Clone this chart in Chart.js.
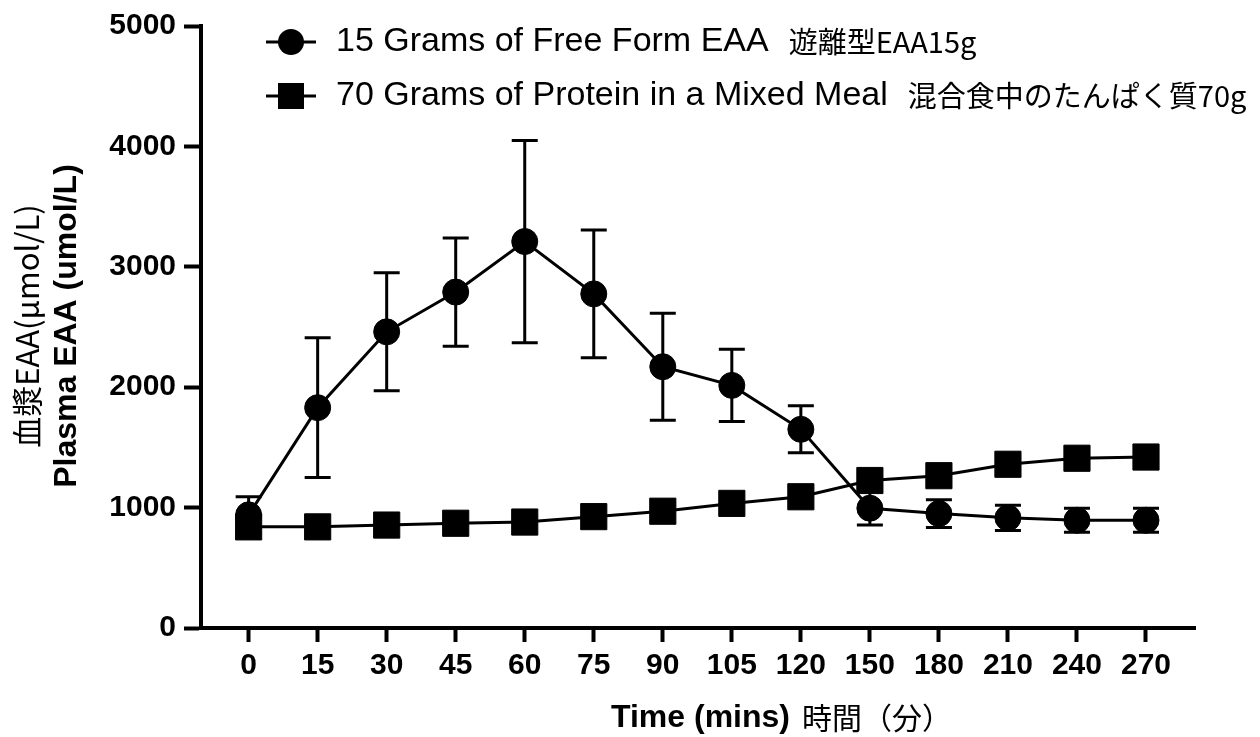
<!DOCTYPE html>
<html>
<head>
<meta charset="utf-8">
<script src="https://cdn.jsdelivr.net/npm/chart.js@4"></script>
<style>
  body { margin: 0; background: #fff; }
  #wrap { width: 1260px; height: 737px; position: relative; }
</style>
</head>
<body>
<div id="wrap"><canvas id="eaaChart"></canvas></div>
<script>
// time points (mins)
const times = ['0', '15', '30', '45', '60', '75', '90', '105', '120', '150', '180', '210', '240', '270'];
// 15 g free form EAA: mean and error
const freeEAA = [940, 1830, 2460, 2790, 3210, 2775, 2170, 2015, 1650, 995, 950, 915, 895, 895];
const freeEAAErr = [150, 580, 490, 450, 840, 530, 445, 300, 195, 140, 115, 105, 100, 100];
// 70 g protein in a mixed meal
const mealEAA = [840, 840, 855, 870, 880, 925, 970, 1035, 1090, 1225, 1265, 1360, 1410, 1420];
const yTicks = [0, 1000, 2000, 3000, 4000, 5000];

const seriesEn = ['15 Grams of Free Form EAA', '70 Grams of Protein in a Mixed Meal'];
const seriesJa = ['遊離型EAA15g', '混合食中のたんぱく質70g'];

const LATIN = "'Liberation Sans', Arial, sans-serif";
const CJK = "'Noto Sans CJK JP', sans-serif";

const errorBars = {
    id: 'errorBars',
    beforeDatasetsDraw(chart) {
        const { ctx, scales: { x, y } } = chart;
        ctx.save();
        ctx.strokeStyle = '#000';
        ctx.lineWidth = 3;
        freeEAA.forEach((v, i) => {
            const px = x.getPixelForValue(i);
            const top = y.getPixelForValue(v + freeEAAErr[i]);
            const bot = y.getPixelForValue(v - freeEAAErr[i]);
            ctx.beginPath();
            ctx.moveTo(px, top); ctx.lineTo(px, bot);
            ctx.moveTo(px - 13, top); ctx.lineTo(px + 13, top);
            ctx.moveTo(px - 13, bot); ctx.lineTo(px + 13, bot);
            ctx.stroke();
        });
        ctx.restore();
    }
};

// legend + axis titles with mixed fonts
const texts = {
    id: 'texts',
    afterDraw(chart) {
        const ctx = chart.ctx;
        ctx.save();
        ctx.fillStyle = '#000';
        ctx.strokeStyle = '#000';
        ctx.textBaseline = 'middle';

        const rows = [42, 96];
        rows.forEach((ry, i) => {
            ctx.lineWidth = 3;
            ctx.beginPath(); ctx.moveTo(266, ry); ctx.lineTo(316, ry); ctx.stroke();
            ctx.beginPath();
            if (i === 0) ctx.arc(291, ry, 13, 0, Math.PI * 2);
            else ctx.rect(278, ry - 13, 26, 26);
            ctx.fill();
            ctx.textAlign = 'left';
            ctx.font = '34px ' + LATIN;
            ctx.fillText(seriesEn[i], 336, ry);
            const w = ctx.measureText(seriesEn[i]).width;
            ctx.font = '29px ' + CJK;
            ctx.fillText(seriesJa[i], 336 + w + 20, ry);
        });

        // y titles
        ctx.save();
        ctx.translate(27, 326);
        ctx.rotate(-Math.PI / 2);
        ctx.textAlign = 'center';
        ctx.font = '31px ' + CJK;
        ctx.fillText('血漿EAA(μmol/L)', 0, 0);
        ctx.restore();

        ctx.save();
        ctx.translate(67, 326);
        ctx.rotate(-Math.PI / 2);
        ctx.textAlign = 'center';
        ctx.font = 'bold 32px ' + LATIN;
        ctx.fillText('Plasma EAA (umol/L)', 0, 0);
        ctx.restore();

        // x title
        ctx.textAlign = 'left';
        ctx.font = 'bold 32px ' + LATIN;
        ctx.fillText('Time (mins)', 611, 718);
        const tw = ctx.measureText('Time (mins)').width;
        ctx.font = '30px ' + CJK;
        ctx.fillText('時間（分）', 611 + tw + 12, 718);
        ctx.restore();
    }
};

const ctx = document.getElementById('eaaChart').getContext('2d');
const eaaChart = new Chart(ctx, {
    type: 'line',
    data: {
        datasets: [{
            label: seriesEn[0],
            data: freeEAA.map((v, i) => ({ x: i, y: v })),
            borderColor: '#000',
            backgroundColor: '#000',
            borderWidth: 3,
            pointStyle: 'circle',
            pointRadius: 13,
            pointBorderWidth: 1,
            tension: 0
        }, {
            label: seriesEn[1],
            data: mealEAA.map((v, i) => ({ x: i, y: v })),
            borderColor: '#000',
            backgroundColor: '#000',
            borderWidth: 3,
            pointStyle: 'rect',
            pointRadius: 18.5,
            pointBorderWidth: 1,
            tension: 0
        }]
    },
    options: {
        responsive: true,
        maintainAspectRatio: false,
        animation: false,
        layout: { padding: { top: 24, right: 65, left: 0, bottom: 0 } },
        plugins: {
            legend: { display: false },
            tooltip: { enabled: false }
        },
        scales: {
            x: {
                type: 'linear',
                min: -0.69,
                max: 13.71,
                afterBuildTicks: (s) => { s.ticks = times.map((t, i) => ({ value: i })); },
                afterFit: (s) => { s.height = 109; },
                border: { display: true, color: '#000', width: 4 },
                grid: { drawOnChartArea: false, tickLength: 14, tickWidth: 4, tickColor: '#000' },
                ticks: {
                    autoSkip: false,
                    maxRotation: 0,
                    padding: 6,
                    color: '#000',
                    font: { family: LATIN, size: 30, weight: 'bold' },
                    callback: (v) => times[v]
                }
            },
            y: {
                min: 0,
                max: 5000,
                afterBuildTicks: (s) => { s.ticks = yTicks.map(v => ({ value: v })); },
                afterFit: (s) => { s.width = 201; },
                border: { display: true, color: '#000', width: 4 },
                grid: { drawOnChartArea: false, tickLength: 17, tickWidth: 4, tickColor: '#000' },
                ticks: {
                    padding: 8,
                    color: '#000',
                    font: { family: LATIN, size: 30, weight: 'bold' },
                    callback: (v) => String(v)
                }
            }
        }
    },
    plugins: [errorBars, texts]
});
</script>
</body>
</html>
